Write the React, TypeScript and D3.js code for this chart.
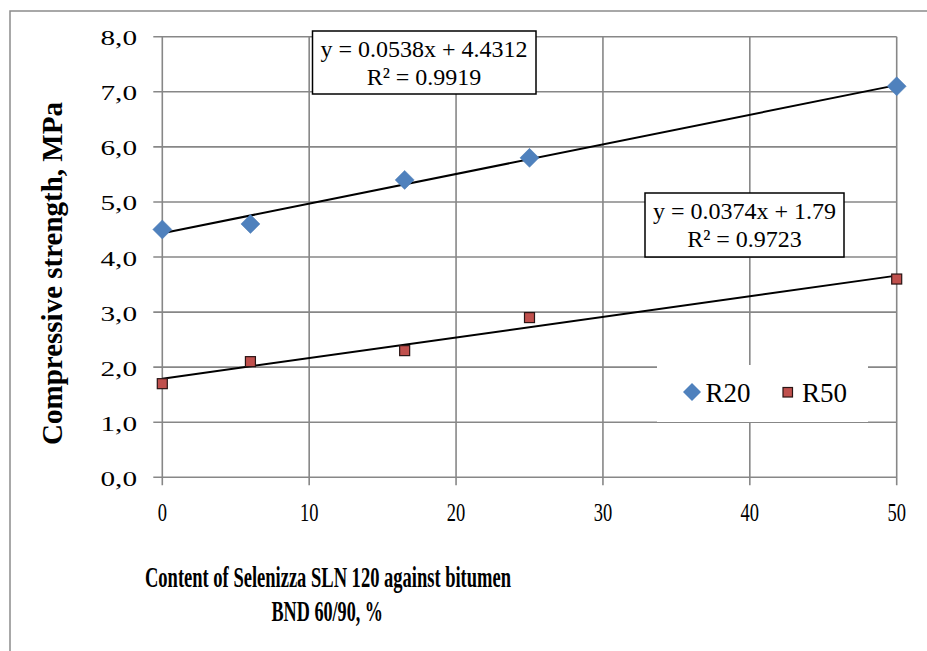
import React from 'react';
import * as d3 from 'd3';

// content of Selenizza SLN 120, %
const content = [0, 6, 16.5, 25, 50];
const r20 = [4.5, 4.6, 5.4, 5.8, 7.1];
const r50 = [1.7, 2.1, 2.3, 2.9, 3.6];
const xTicks = [0, 10, 20, 30, 40, 50];
const yTicks = [0, 1, 2, 3, 4, 5, 6, 7, 8];
const eqR20 = ['y = 0.0538x + 4.4312', 'R² = 0.9919'];
const eqR50 = ['y = 0.0374x + 1.79', 'R² = 0.9723'];

const serif = "'Liberation Serif', 'Times New Roman', serif";

// least squares fit, like Excel's linear trendline
function fit(xs: number[], ys: number[]) {
  const mx = d3.mean(xs)!;
  const my = d3.mean(ys)!;
  let sxy = 0;
  let sxx = 0;
  xs.forEach((v, i) => {
    sxy += (v - mx) * (ys[i] - my);
    sxx += (v - mx) * (v - mx);
  });
  const slope = sxy / sxx;
  return { slope, icpt: my - slope * mx };
}

const App = () => {
  const x = d3.scaleLinear().domain([0, 50]).range([162.3, 896.7]);
  const y = d3.scaleLinear().domain([0, 8]).range([477.3, 36.7]);
  const grid = '#878787';

  const f20 = fit(content, r20);
  const f50 = fit(content, r50);
  const trend = (f: { slope: number; icpt: number }) =>
    d3.line<number>()
      .x((d) => x(d))
      .y((d) => y(f.slope * d + f.icpt))([0, 50]) || '';

  const diamond = (cx: number, cy: number, r: number) =>
    `M${cx},${cy - r}L${cx + r},${cy}L${cx},${cy + r}L${cx - r},${cy}Z`;

  return (
    <svg width={927} height={651} style={{ position: 'absolute', left: 0, top: 0, background: '#fff' }}>
      <rect x={10} y={11} width={940} height={680} fill="#fff" stroke="#8c8c8c" strokeWidth={1.5} />

      {/* gridlines + tick extensions */}
      <g stroke={grid} strokeWidth={1.6}>
        {yTicks.map((t) => (
          <line key={'h' + t} x1={x(0) - 9} x2={x(50)} y1={y(t)} y2={y(t)} />
        ))}
        {xTicks.map((t) => (
          <line key={'v' + t} x1={x(t)} x2={x(t)} y1={y(8)} y2={y(0) + 8} />
        ))}
      </g>

      {/* trendlines */}
      <path d={trend(f20)} stroke="#000" strokeWidth={2} fill="none" />
      <path d={trend(f50)} stroke="#000" strokeWidth={2} fill="none" />

      {/* points */}
      {content.map((c, i) => (
        <path key={'d' + i} d={diamond(x(c), y(r20[i]), 9.5)} fill="#4F81BD" stroke="#4a7bb5" strokeWidth={0.5} />
      ))}
      {content.map((c, i) => (
        <rect key={'s' + i} x={x(c) - 5} y={y(r50[i]) - 5} width={10} height={10} fill="#C0504D" stroke="#2a1515" strokeWidth={1.2} />
      ))}

      {/* legend */}
      <rect x={657} y={365} width={211} height={57} fill="#fff" />
      <path d={diamond(692, 392, 9)} fill="#4F81BD" />
      <text x={705.5} y={401.5} fontFamily={serif} fontSize={27} fill="#000">R20</text>
      <rect x={783} y={387.5} width={9.5} height={9.5} fill="#C0504D" stroke="#2a1515" strokeWidth={1.2} />
      <text x={802} y={401.5} fontFamily={serif} fontSize={27} fill="#000">R50</text>

      {/* trendline equations */}
      <rect x={312.5} y={31} width={223.5} height={63} fill="#fff" stroke="#000" strokeWidth={1.5} />
      <text x={424} y={57} textAnchor="middle" fontFamily={serif} fontSize={24}>{eqR20[0]}</text>
      <text x={424} y={85} textAnchor="middle" fontFamily={serif} fontSize={24}>{eqR20[1]}</text>
      <rect x={645} y={193} width={199} height={64} fill="#fff" stroke="#000" strokeWidth={1.5} />
      <text x={744.5} y={219} textAnchor="middle" fontFamily={serif} fontSize={24}>{eqR50[0]}</text>
      <text x={744.5} y={247} textAnchor="middle" fontFamily={serif} fontSize={24}>{eqR50[1]}</text>

      {/* y tick labels */}
      {yTicks.map((t) => (
        <text key={'yl' + t} transform={`translate(137,${y(t) + 8.5}) scale(1.33,1)`} textAnchor="end"
          fontFamily={serif} fontSize={22} fill="#000">
          {d3.format('.1f')(t).replace('.', ',')}
        </text>
      ))}

      {/* x tick labels */}
      {xTicks.map((t) => (
        <text key={'xl' + t} transform={`translate(${x(t)},521) scale(0.74,1)`} textAnchor="middle"
          fontFamily={serif} fontSize={25} fill="#000">
          {t}
        </text>
      ))}

      {/* axis titles */}
      <text transform="translate(62,273.5) rotate(-90)" textAnchor="middle" fontFamily={serif}
        fontWeight="bold" fontSize={29} fill="#000">
        Compressive strength, MPa
      </text>
      <text x={145} y={586.5} textLength={366} lengthAdjust="spacingAndGlyphs" fontFamily={serif}
        fontWeight="bold" fontSize={30} fill="#000">
        Content of Selenizza SLN 120 against bitumen
      </text>
      <text x={271.5} y={620.5} textLength={111.5} lengthAdjust="spacingAndGlyphs" fontFamily={serif}
        fontWeight="bold" fontSize={30} fill="#000">
        BND 60/90, %
      </text>
    </svg>
  );
};

export default App;
